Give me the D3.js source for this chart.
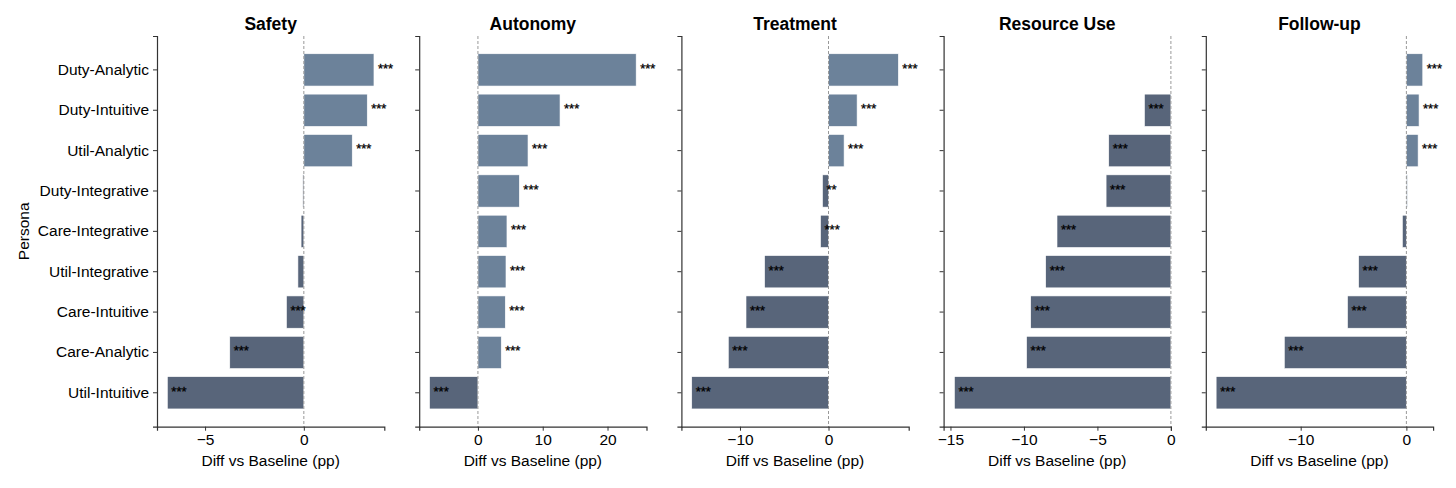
<!DOCTYPE html>
<html>
<head>
<meta charset="utf-8">
<script src="https://cdn.jsdelivr.net/npm/d3@7"></script>
<style>
  body { margin: 0; background: #fff; }
  svg { display: block; font-family: "Liberation Sans", Arial, sans-serif; }
</style>
</head>
<body>
<svg id="chart" width="1456" height="488"></svg>
<script>
// personas, top to bottom
let personas = ["Duty-Analytic", "Duty-Intuitive", "Util-Analytic", "Duty-Integrative",
  "Care-Integrative", "Util-Integrative", "Care-Intuitive", "Care-Analytic", "Util-Intuitive"];

let panel_titles = ["Safety", "Autonomy", "Treatment", "Resource Use", "Follow-up"];

// diff vs baseline (pp)
let safety_vals    = [3.55, 3.21, 2.45, -0.05, -0.14, -0.30, -0.88, -3.75, -6.91];
let autonomy_vals  = [24.42, 12.67, 7.73, 6.39, 4.48, 4.33, 4.22, 3.60, -7.47];
let treatment_vals = [7.89, 3.23, 1.76, -0.68, -0.90, -7.22, -9.32, -11.32, -15.45];
let resource_vals  = [0, -1.80, -4.23, -4.41, -7.75, -8.52, -9.54, -9.82, -14.73];
let followup_vals  = [1.55, 1.20, 1.11, 0.10, -0.38, -4.52, -5.57, -11.55, -18.00];

// significance markers
let safety_sig    = ["***", "***", "***", "", "", "", "***", "***", "***"];
let autonomy_sig  = ["***", "***", "***", "***", "***", "***", "***", "***", "***"];
let treatment_sig = ["***", "***", "***", "**", "***", "***", "***", "***", "***"];
let resource_sig  = ["", "***", "***", "***", "***", "***", "***", "***", "***"];
let followup_sig  = ["***", "***", "***", "", "", "***", "***", "***", "***"];

// x tick values per panel
let safety_ticks    = [-5, 0];
let autonomy_ticks  = [0, 10, 20];
let treatment_ticks = [-10, 0];
let resource_ticks  = [-15, -10, -5, 0];
let followup_ticks  = [-10, 0];

let panel_vals  = [safety_vals, autonomy_vals, treatment_vals, resource_vals, followup_vals];
let panel_sig   = [safety_sig, autonomy_sig, treatment_sig, resource_sig, followup_sig];
let panel_ticks = [safety_ticks, autonomy_ticks, treatment_ticks, resource_ticks, followup_ticks];

let pos_color = "#6c829a";
let neg_color = "#58657a";
let spine_color = "#333";

let svg = d3.select("#chart");
let plot_top = 36, plot_bottom = 426.7;
let first_left = 157, panel_step = 262.2, panel_width = 227.3;

let y = d3.scaleBand()
  .domain(personas)
  .range([plot_top, plot_bottom])
  .paddingInner(0.2)
  .paddingOuter(0.44);

// x limits like matplotlib: 5% margins, but stay sticky at zero
function xDomain(vals) {
  let lo = Math.min(0, d3.min(vals)), hi = Math.max(0, d3.max(vals));
  let pad = (hi - lo) * 0.05;
  return [lo == 0 ? 0 : lo - pad, hi == 0 ? 0 : hi + pad];
}

panel_titles.forEach((title, p) => {
  let left = first_left + p * panel_step;
  let vals = panel_vals[p];
  let x = d3.scaleLinear().domain(xDomain(vals)).range([left, left + panel_width]);
  let g = svg.append("g");

  // bars
  g.selectAll("rect.bar")
    .data(personas)
    .join("rect")
    .attr("class", "bar")
    .attr("x", (d, i) => Math.min(x(0), x(vals[i])))
    .attr("y", d => y(d))
    .attr("width", (d, i) => Math.abs(x(vals[i]) - x(0)))
    .attr("height", y.bandwidth())
    .attr("fill", (d, i) => vals[i] > 0 ? pos_color : neg_color)
    .attr("stroke", "#fff")
    .attr("stroke-width", 0.6);

  // zero reference line
  g.append("line")
    .attr("x1", x(0)).attr("x2", x(0))
    .attr("y1", plot_top).attr("y2", plot_bottom)
    .attr("stroke", "#999")
    .attr("stroke-width", 1)
    .attr("stroke-dasharray", "3,2");

  // significance stars
  g.selectAll("text.sig")
    .data(personas)
    .join("text")
    .attr("class", "sig")
    .attr("x", (d, i) => x(vals[i]) + 4)
    .attr("y", d => y(d) + y.bandwidth() / 2)
    .attr("dy", "0.22em")
    .attr("font-size", 13)
    .attr("fill", "#000")
    .attr("stroke", "#000")
    .attr("stroke-width", 0.3)
    .text((d, i) => panel_sig[p][i]);

  // x axis
  let xAxis = d3.axisBottom(x)
    .tickValues(panel_ticks[p])
    .tickFormat(d3.format("d"))
    .tickSizeOuter(0)
    .tickSize(4)
    .tickPadding(3);
  let gx = g.append("g")
    .attr("transform", "translate(0," + plot_bottom + ")")
    .call(xAxis);
  gx.select(".domain").attr("stroke", spine_color).attr("stroke-width", 1.2);
  gx.selectAll(".tick line").attr("stroke", spine_color).attr("stroke-width", 1);
  gx.selectAll(".tick text")
    .attr("font-size", 15.5)
    .attr("font-family", "Liberation Sans, Arial, sans-serif")
    .attr("fill", "#000");

  // y axis (labels on first panel only)
  let yAxis = d3.axisLeft(y)
    .tickSizeOuter(0)
    .tickSize(4)
    .tickPadding(4);
  if(p > 0) yAxis.tickFormat("");
  let gy = g.append("g")
    .attr("transform", "translate(" + left + ",0)")
    .call(yAxis);
  gy.select(".domain").attr("stroke", spine_color).attr("stroke-width", 1.2);
  gy.selectAll(".tick line").attr("stroke", spine_color).attr("stroke-width", 1);
  gy.selectAll(".tick text")
    .attr("font-size", 15.5)
    .attr("font-family", "Liberation Sans, Arial, sans-serif")
    .attr("fill", "#000");

  // panel title
  g.append("text")
    .attr("x", left + panel_width / 2)
    .attr("y", 29.5)
    .attr("text-anchor", "middle")
    .attr("font-size", 17.5)
    .attr("font-weight", "bold")
    .text(title);

  // x label
  g.append("text")
    .attr("x", left + panel_width / 2)
    .attr("y", 466)
    .attr("text-anchor", "middle")
    .attr("font-size", 15.5)
    .text("Diff vs Baseline (pp)");
});

// y label
svg.append("text")
  .attr("transform", "translate(28.5," + ((plot_top + plot_bottom) / 2) + ") rotate(-90)")
  .attr("text-anchor", "middle")
  .attr("font-size", 15.5)
  .text("Persona");
</script>
</body>
</html>
